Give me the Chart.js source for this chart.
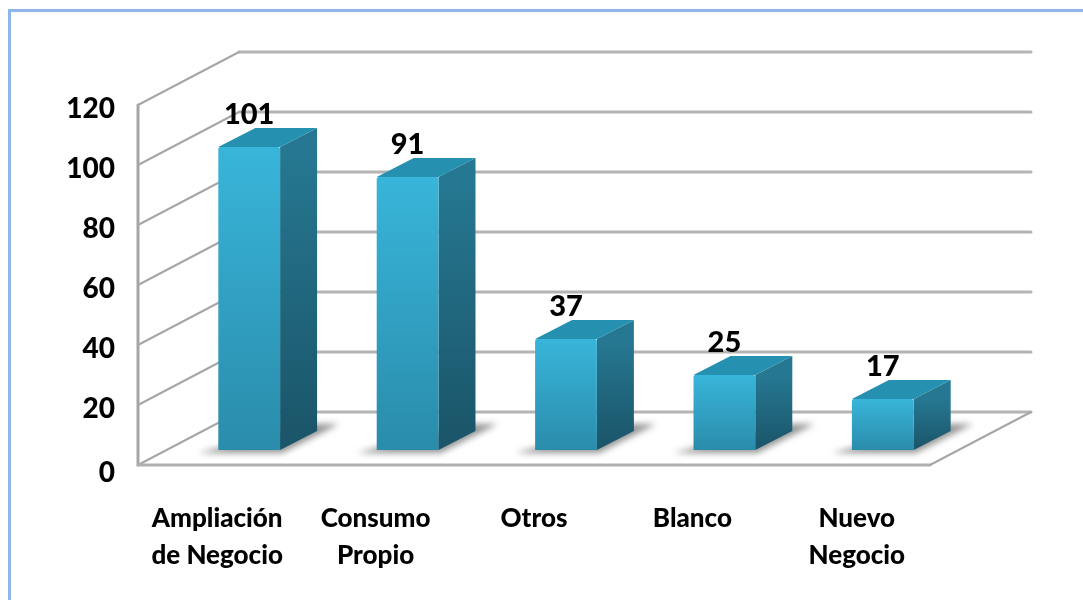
<!DOCTYPE html>
<html>
<head>
<meta charset="utf-8">
<script src="https://cdn.jsdelivr.net/npm/chart.js@4"></script>
<style>
    html, body { margin: 0; padding: 0; background: #fff; overflow: hidden; }
    #frame { position: absolute; left: 8px; top: 9px; right: 0; bottom: 0; border-left: 3px solid #8fb6e9; border-top: 3px solid #8fb6e9; }
    #barChart { position: absolute; left: 0; top: 0; filter: blur(0.6px); }
</style>
</head>
<body>
<div id="frame"></div>
<canvas id="barChart" width="1083" height="600"></canvas>
<script>
// Values
const categories = [['Ampliación', 'de Negocio'], ['Consumo', 'Propio'], ['Otros'], ['Blanco'], ['Nuevo', 'Negocio']];
const values = [101, 91, 37, 25, 17];
const yTicks = [0, 20, 40, 60, 80, 100, 120];

const FONT = 'Lato, "Open Sans", sans-serif';
const WALL = { dx: 101, dy: -53 };   // depth of the whole box
const BAR = { dx: 32, dy: -15 };     // bars sit part way into the box
const SIDE = { dx: 37, dy: -19 };    // depth of one bar
const GRID = '#b4b4b4';

function line(ctx, x1, y1, x2, y2, color, width) {
    ctx.strokeStyle = color;
    ctx.lineWidth = width;
    ctx.beginPath();
    ctx.moveTo(x1, y1);
    ctx.lineTo(x2, y2);
    ctx.stroke();
}

function poly(ctx, points, fill) {
    ctx.fillStyle = fill;
    ctx.beginPath();
    points.forEach((p, i) => i ? ctx.lineTo(p[0], p[1]) : ctx.moveTo(p[0], p[1]));
    ctx.closePath();
    ctx.fill();
}

function gradient(ctx, y0, y1, top, bottom) {
    const g = ctx.createLinearGradient(0, y0, 0, y1);
    g.addColorStop(0, top);
    g.addColorStop(1, bottom);
    return g;
}

// Walls, floor, shadows and bar sides, the bars themselves are shifted into the box
const box3d = {
    id: 'box3d',
    beforeDraw(chart) {
        // y tick labels sit a little under their lines in the original
        const y = chart.scales.y;
        y.getLabelItems().forEach((item, i) => {
            const offset = y.ticks[i].value === 0 ? 8 : 4;
            item.options.translation[1] = y.getPixelForTick(i) + offset;
        });
        // last category label is off centre in the original
        const x = chart.scales.x;
        const last = x.getLabelItems()[categories.length - 1];
        last.options.translation[0] = x.getPixelForTick(categories.length - 1) + 6;
    },
    beforeDatasetsDraw(chart) {
        const { ctx, chartArea: a, scales: { y } } = chart;
        ctx.save();
        ctx.lineCap = 'round';

        yTicks.forEach(t => {
            const py = y.getPixelForValue(t);
            line(ctx, a.left + WALL.dx, py + WALL.dy, a.right + WALL.dx, py + WALL.dy, GRID, 3);
            if (t > 0) line(ctx, a.left, py, a.left + WALL.dx, py + WALL.dy, '#a6a6a6', 2);
        });
        line(ctx, a.left, a.bottom, a.left + WALL.dx, a.bottom + WALL.dy, '#a6a6a6', 2);
        line(ctx, a.left, a.top, a.left, a.bottom, '#a6a6a6', 3);
        line(ctx, a.left, a.bottom, a.right, a.bottom, '#b0b0b0', 3);
        line(ctx, a.right, a.bottom, a.right + WALL.dx, a.bottom + WALL.dy, '#a6a6a6', 2);

        const bars = chart.getDatasetMeta(0).data;

        ctx.save();
        ctx.filter = 'blur(3px)';
        bars.forEach(b => {
            const x0 = b.x - b.width / 2 + BAR.dx, x1 = b.x + b.width / 2 + BAR.dx, base = b.base + BAR.dy;
            poly(ctx, [[x0 - 20, base + 3], [x1 + 2, base + 3], [x1 + SIDE.dx + 22, base + SIDE.dy - 7], [x1 + SIDE.dx - 6, base + SIDE.dy - 7]], '#959595');
        });
        ctx.restore();

        bars.forEach(b => {
            const x0 = b.x - b.width / 2 + BAR.dx, x1 = b.x + b.width / 2 + BAR.dx;
            const top = b.y + BAR.dy, base = b.base + BAR.dy;
            poly(ctx, [[x1, top], [x1 + SIDE.dx, top + SIDE.dy], [x1 + SIDE.dx, base + SIDE.dy], [x1, base]],
                gradient(ctx, top, base, '#267892', '#1a5468'));
            poly(ctx, [[x0, top], [x0 + SIDE.dx, top + SIDE.dy], [x1 + SIDE.dx, top + SIDE.dy], [x1, top]],
                '#2590b0');
        });
        ctx.restore();

        ctx.save();
        ctx.translate(BAR.dx, BAR.dy);
    },
    afterDatasetsDraw(chart) {
        const ctx = chart.ctx;
        ctx.restore();
        ctx.save();
        ctx.font = '900 29px ' + FONT;
        ctx.fillStyle = '#000';
        ctx.textAlign = 'center';
        ctx.textBaseline = 'middle';
        chart.getDatasetMeta(0).data.forEach((b, i) => {
            ctx.fillText(values[i], b.x + BAR.dx, b.y + BAR.dy - 32);
        });
        ctx.restore();
    }
};

const ctxBar = document.getElementById('barChart').getContext('2d');
new Chart(ctxBar, {
    type: 'bar',
    data: {
        labels: categories,
        datasets: [{
            data: values,
            backgroundColor: function(c) {
                const y = c.chart.scales.y;
                const y0 = y ? y.getPixelForValue(c.raw) : NaN;
                const y1 = y ? y.getPixelForValue(0) : NaN;
                if (!Number.isFinite(y0) || !Number.isFinite(y1)) return '#33a6c9';
                return gradient(c.chart.ctx, y0, y1, '#38b5da', '#2a8cab');
            },
            borderRadius: 2,
            barPercentage: 0.39,
            categoryPercentage: 1
        }]
    },
    options: {
        responsive: false,
        animation: false,
        layout: { padding: { top: 105, right: 153, left: 0, bottom: 0 } },
        plugins: { legend: { display: false }, tooltip: { enabled: false } },
        scales: {
            x: {
                grid: { display: false },
                border: { display: false },
                afterFit: s => { s.height = 135; },
                ticks: {
                    color: '#000',
                    padding: 27,
                    maxRotation: 0,
                    autoSkip: false,
                    font: { family: FONT, size: 26, weight: '900', lineHeight: 1.42 }
                }
            },
            y: {
                min: 0,
                max: 120,
                grid: { display: false, drawTicks: false },
                border: { display: false },
                afterFit: s => { s.width = 138; },
                afterBuildTicks: s => { s.ticks = yTicks.map(v => ({ value: v })); },
                ticks: {
                    color: '#000',
                    padding: 23,
                    font: { family: FONT, size: 28, weight: '900' }
                }
            }
        }
    },
    plugins: [box3d]
});
</script>
</body>
</html>
